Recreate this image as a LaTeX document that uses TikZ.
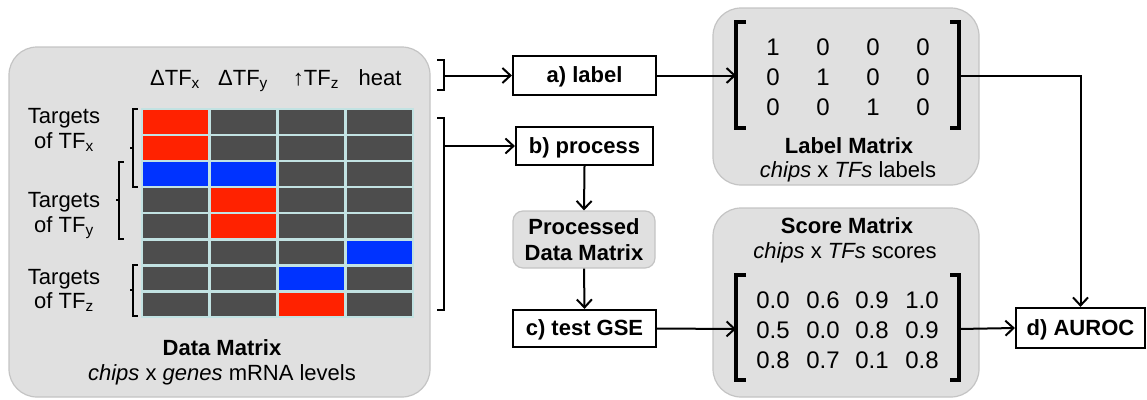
\documentclass[tikz,border=0pt]{standalone}
\usepackage{fontspec}
\setmainfont{Liberation Sans}
\usetikzlibrary{arrows.meta}
\definecolor{panelfill}{HTML}{E0E0E0}
\definecolor{panelline}{HTML}{C4C4C4}
\definecolor{cR}{HTML}{FF2200}
\definecolor{cB}{HTML}{0033FF}
\definecolor{cD}{HTML}{4D4D4D}
\definecolor{gridline}{HTML}{C2E2E2}
\newcommand\tfsub[1]{\textsubscript{#1}}
\tikzset{
  every node/.style={font=\fontsize{22}{26}\selectfont, inner sep=0pt},
  panel/.style={fill=panelfill, draw=panelline, line width=1.2pt, rounded corners=28pt},
  stepbox/.style={draw=black, line width=2.2pt, fill=white, font=\fontsize{22}{26}\selectfont\bfseries, text height=16pt, text depth=2pt},
  procbox/.style={draw=panelline, line width=1.2pt, fill=panelfill, rounded corners=10pt, align=center, font=\fontsize{22}{26.5}\selectfont\bfseries},
  arr/.style={line width=2pt, -{Straight Barb[length=8pt,width=15pt,line width=2pt]}},
  brk/.style={line width=2.4pt, line cap=butt, line join=miter},
  mbrk/.style={line width=3.3pt, line join=miter},
  txt/.style={anchor=base},
  num/.style={anchor=base, font=\fontsize{24}{28}\selectfont},
}
\begin{document}
\begin{tikzpicture}[x=1pt,y=-1pt]
\useasboundingbox (0,0) rectangle (1147,399);

% panels
\draw[panel] (9,47) rectangle (430,397);
\draw[panel] (713,8) rectangle (979,185);
\draw[panel] (713,208) rectangle (979,397);

% data grid
\fill[gridline] (141,107.5) rectangle (413.5,317.5);
\foreach \c [count=\i from 0] in {R,D,D,D, R,D,D,D, B,B,D,D, D,R,D,D, D,R,D,D, D,D,D,B, D,D,B,D, D,D,R,D}{
  \pgfmathtruncatemacro\row{\i/4}
  \pgfmathtruncatemacro\col{mod(\i,4)}
  \fill[c\c] ({143+68*\col},{110+26.1*\row}) rectangle ++(65,23.5);
}

% column headers
\node[txt] (h1) at (175,85) {ΔTF\tfsub{x}};
\node[txt] (h2) at (243,85) {ΔTF\tfsub{y}};
\node[txt] (h3) at (316,85) {↑TF\tfsub{z}};
\node[txt] (h4) at (380,85) {heat};

% row labels
\node[txt] (tx1) at (64,123) {Targets};
\node[txt] (tx2) at (64,148) {of TF\tfsub{x}};
\node[txt] (ty1) at (64,207) {Targets};
\node[txt] (ty2) at (64,232) {of TF\tfsub{y}};
\node[txt] (tz1) at (64,284) {Targets};
\node[txt] (tz2) at (64,308) {of TF\tfsub{z}};

% left brackets
\draw[brk] (137.5,109) -- (133,109) -- (133,187) -- (137.5,187);
\draw[brk] (133,148) -- (129.5,148);
\draw[brk] (123.5,162) -- (119,162) -- (119,239) -- (123.5,239);
\draw[brk] (119,200) -- (115.5,200);
\draw[brk] (137.5,265) -- (133,265) -- (133,316) -- (137.5,316);
\draw[brk] (133,290) -- (129.5,290);

% data matrix caption
\node[txt] (dm1) at (222,355) {\bfseries Data Matrix};
\node[txt] (dm2) at (222,380) {\textit{chips} x \textit{genes} mRNA levels};

% right braces
\draw[brk] (437,60) -- (444,60) -- (444,90) -- (437,90);
\draw[brk] (437,118) -- (444,118) -- (444,310) -- (437,310);
\coordinate (n1) at (444,75.5);
\coordinate (n2) at (444,146);

% step boxes
\node[stepbox, minimum width=143pt, minimum height=39pt] (alabel) at (584.5,75.5) {a) label};
\node[stepbox, minimum width=137pt, minimum height=38pt] (bproc) at (584.5,146) {b) process};
\node[procbox, minimum width=142pt, minimum height=57pt] (pdm) at (584,239.5) {Processed\\Data Matrix};
\node[stepbox, minimum width=143pt, minimum height=37pt] (ctest) at (584.5,328.5) {c) test GSE};
\node[stepbox, minimum width=129pt, minimum height=40pt] (dauroc) at (1080.5,328) {d) AUROC};

% label matrix
\draw[mbrk] (746,22) -- (736,22) -- (736,128) -- (746,128);
\draw[mbrk] (950,22) -- (959,22) -- (959,128) -- (950,128);
\coordinate (lmL) at (736,75.5);
\coordinate (lmR) at (959,75.5);
\node[num] (l11) at (773,55) {1};
\node[num] (l12) at (823,55) {0};
\node[num] (l13) at (873,55) {0};
\node[num] (l14) at (923,55) {0};
\node[num] (l21) at (773,85) {0};
\node[num] (l22) at (823,85) {1};
\node[num] (l23) at (873,85) {0};
\node[num] (l24) at (923,85) {0};
\node[num] (l31) at (773,115) {0};
\node[num] (l32) at (823,115) {0};
\node[num] (l33) at (873,115) {1};
\node[num] (l34) at (923,115) {0};
\node[txt] (lm1) at (849,153) {\bfseries Label Matrix};
\node[txt] (lm2) at (848,177) {\textit{chips} x \textit{TFs} labels};

% score matrix
\node[txt] (sm1) at (847,233) {\bfseries Score Matrix};
\node[txt] (sm2) at (845,258) {\textit{chips} x \textit{TFs} scores};
\draw[mbrk] (746,275) -- (736,275) -- (736,380) -- (746,380);
\draw[mbrk] (950,275) -- (959,275) -- (959,380) -- (950,380);
\coordinate (smL) at (736,329);
\coordinate (smR) at (959,329);
\node[num] (s11) at (773,308) {0.0};
\node[num] (s12) at (823,308) {0.6};
\node[num] (s13) at (872,308) {0.9};
\node[num] (s14) at (922,308) {1.0};
\node[num] (s21) at (773,338) {0.5};
\node[num] (s22) at (823,338) {0.0};
\node[num] (s23) at (872,338) {0.8};
\node[num] (s24) at (922,338) {0.9};
\node[num] (s31) at (773,368) {0.8};
\node[num] (s32) at (823,368) {0.7};
\node[num] (s33) at (872,368) {0.1};
\node[num] (s34) at (922,368) {0.8};

% connectors
\draw[arr] (n1) -- (alabel.west);
\draw[arr] (n2) -- (bproc.west);
\draw[arr] (bproc.south) -- (pdm.north);
\draw[arr] (pdm.south) -- (ctest.north);
\draw[arr] (alabel.east) -- (lmL);
\draw[arr] (ctest.east) -- (smL);
\draw[arr] (lmR) -| (dauroc.north);
\draw[arr] (smR) -- (dauroc.west);
\end{tikzpicture}
\end{document}
